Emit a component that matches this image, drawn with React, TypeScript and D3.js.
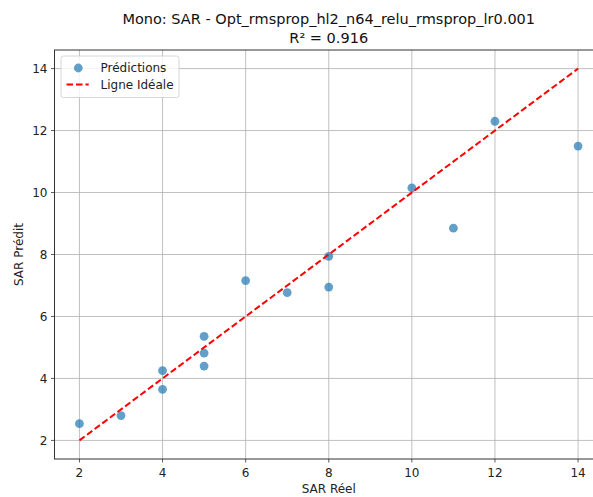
import React from "react";
import * as d3 from "d3";

const actual = [2, 3, 4, 4, 5, 5, 5, 6, 7, 8, 8, 10, 11, 12, 14];
const predicted = [2.54, 2.8, 4.25, 3.65, 5.36, 4.82, 4.4, 7.16, 6.77, 7.94, 6.95, 10.15, 8.85, 12.3, 11.5];
const idealLine = [2, 14];
const xTicks = [2, 4, 6, 8, 10, 12, 14];
const yTicks = [2, 4, 6, 8, 10, 12, 14];
const title1 = "Mono: SAR - Opt_rmsprop_hl2_n64_relu_rmsprop_lr0.001";
const title2 = "R² = 0.916";
const xLabel = "SAR Réel";
const yLabel = "SAR Prédit";
const legendLabels = ["Prédictions", "Ligne Idéale"];

const W = 593;
const H = 497;
const left = 54.5;
const right = 603;
const top = 50;
const bottom = 459;
const font = "'DejaVu Sans', sans-serif";
const fs = 12;

export default function App() {
  const x = d3.scaleLinear().domain([1.4, 14.6]).range([left, right]);
  const y = d3.scaleLinear().domain([1.4, 14.6]).range([bottom, top]);
  const line = d3
    .line<number>()
    .x((d) => x(d))
    .y((d) => y(d));
  const cx = (left + right) / 2;
  return (
    <svg
      width={W}
      height={H}
      style={{ position: "absolute", left: 0, top: 0, background: "#fff", fontFamily: font }}
    >
      <rect x={0} y={0} width={W} height={H} fill="#fff" />
      {/* grid */}
      {xTicks.map((t) => (
        <line key={"gx" + t} x1={x(t)} x2={x(t)} y1={top} y2={bottom} stroke="#b0b0b0" strokeWidth={0.8} />
      ))}
      {yTicks.map((t) => (
        <line key={"gy" + t} x1={left} x2={right} y1={y(t)} y2={y(t)} stroke="#b0b0b0" strokeWidth={0.8} />
      ))}
      {/* points */}
      {actual.map((a, i) => (
        <circle key={"p" + i} cx={x(a)} cy={y(predicted[i])} r={4.4} fill="#1f77b4" fillOpacity={0.7} />
      ))}
      {/* ideal line */}
      <path
        d={line(idealLine) || ""}
        fill="none"
        stroke="#ff0000"
        strokeWidth={2}
        strokeDasharray="6.5,3"
      />
      {/* spines */}
      <rect x={left} y={top} width={right - left} height={bottom - top} fill="none" stroke="#333" strokeWidth={1} />
      {/* x ticks */}
      {xTicks.map((t) => (
        <g key={"xt" + t}>
          <line x1={x(t)} x2={x(t)} y1={bottom} y2={bottom + 3.5} stroke="#333" strokeWidth={0.8} />
          <text x={x(t)} y={bottom + 18} textAnchor="middle" fontSize={fs} fill="#222">
            {t}
          </text>
        </g>
      ))}
      {yTicks.map((t) => (
        <g key={"yt" + t}>
          <line x1={left - 3.5} x2={left} y1={y(t)} y2={y(t)} stroke="#333" strokeWidth={0.8} />
          <text x={left - 7} y={y(t) + 4.4} textAnchor="end" fontSize={fs} fill="#222">
            {t}
          </text>
        </g>
      ))}
      {/* labels */}
      <text x={cx} y={493} textAnchor="middle" fontSize={fs} fill="#222">
        {xLabel}
      </text>
      <text
        transform={`translate(22.5,${(top + bottom) / 2}) rotate(-90)`}
        textAnchor="middle"
        fontSize={fs}
        fill="#222"
      >
        {yLabel}
      </text>
      <text x={cx} y={24} textAnchor="middle" fontSize={14.5} fill="#111">
        {title1}
      </text>
      <text x={cx} y={42.7} textAnchor="middle" fontSize={14.5} fill="#111">
        {title2}
      </text>
      {/* legend */}
      <rect x={61} y={56} width={118} height={41.5} rx={2.5} fill="#fff" fillOpacity={0.8} stroke="#ccc" strokeWidth={0.8} />
      <circle cx={78.3} cy={68} r={4.4} fill="#1f77b4" fillOpacity={0.7} />
      <text x={100.5} y={71.8} fontSize={fs} fill="#222">
        {legendLabels[0]}
      </text>
      <line x1={66.5} x2={88.7} y1={84.5} y2={84.5} stroke="#ff0000" strokeWidth={2} strokeDasharray="6.5,3" />
      <text x={100.5} y={89.3} fontSize={fs} fill="#222">
        {legendLabels[1]}
      </text>
    </svg>
  );
}
